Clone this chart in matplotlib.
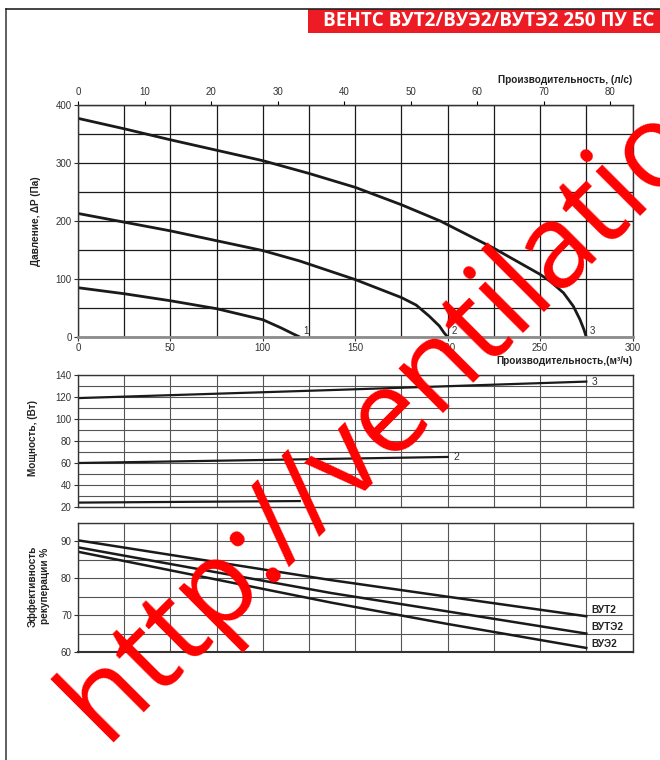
import matplotlib
matplotlib.use("Agg")
import matplotlib.pyplot as plt
import numpy as np

plt.rcParams['font.family'] = ['Liberation Sans', 'DejaVu Sans']

# ---------------- data ----------------
# Pressure curves (flow m3/h -> pressure Pa)
flow_1 = [0, 25, 50, 75, 100, 110, 116, 120]
pres_1 = [85, 74.6, 62.5, 48.8, 29.8, 15.5, 6, 0]
flow_2 = [0, 25, 50, 75, 100, 120, 150, 175, 183, 190, 195.5, 198, 200]
pres_2 = [213, 198, 183, 166, 149, 131, 99, 68, 55, 36, 19, 7.5, 0]
flow_3 = [0, 25, 50, 75, 100, 125, 150, 175, 196, 225, 250, 255.5, 262.7, 268, 271.6, 273.7, 275]
pres_3 = [377, 359, 340, 322, 304, 282, 258, 228, 200, 153, 108, 96, 76, 53, 30, 13, 0]
curve_labels = ["1", "2", "3"]

# Power (flow m3/h -> W)
pw_flow_1 = [0, 120]
pw_1 = [24, 25.4]
pw_flow_2 = [0, 200]
pw_2 = [60, 65.5]
pw_flow_3 = [0, 137, 275]
pw_3 = [119, 126.3, 134]

# Heat recovery efficiency (flow m3/h -> %)
eff_flow = [0, 137, 200, 275]
eff_vut2 = [90.3, 79.5, 75.0, 69.7]
eff_vute2 = [88.4, 76.0, 71.0, 65.0]
eff_vue2 = [87.2, 73.4, 67.6, 61.1]
eff_names = ["ВУТ2", "ВУТЭ2", "ВУЭ2"]

x_ticks_m3h = [0, 50, 100, 150, 200, 250, 300]
x_ticks_ls = [0, 10, 20, 30, 40, 50, 60, 70, 80]
p_ticks = [0, 100, 200, 300, 400]
pw_ticks = [20, 40, 60, 80, 100, 120, 140]
eff_ticks = [60, 70, 80, 90]

title = "ВЕНТС ВУТ2/ВУЭ2/ВУТЭ2 250 ПУ ЕС"

# ---------------- figure ----------------
W, H = 660, 760
fig = plt.figure(figsize=(W / 100, H / 100), dpi=100)


def px_axes(left, top, right, bottom):
    return fig.add_axes([left / W, 1 - bottom / H, (right - left) / W, (bottom - top) / H])


TICK_FS = 7
TICK_COLOR = '#333333'
LAB_FS = 7.2

# page frame
fig.add_artist(plt.Line2D([5.5 / W, 5.5 / W], [0, 1 - 9 / H], color='#444444', lw=1.2))
fig.add_artist(plt.Line2D([5.5 / W, 1], [1 - 9 / H, 1 - 9 / H], color='#222222', lw=1.2))
fig.add_artist(plt.Rectangle((308 / W, 1 - 33 / H), (W - 308) / W, 24 / H,
                             color='#ed1c24', lw=0))
fig.text(488.5 / W, 1 - 21.5 / H, title, color='white', fontsize=13.6, fontweight='bold',
         family=['Open Sans', 'DejaVu Sans'], ha='center', va='center')


def style_ax(ax, ymin, ymax, ystep_minor, yticks, grid_color, grid_lw):
    ax.set_xlim(0, 300)
    ax.set_ylim(ymin, ymax)
    ax.set_xticks(np.arange(0, 301, 25), minor=True)
    ax.set_yticks(np.arange(ymin, ymax + 0.01, ystep_minor), minor=True)
    ax.set_yticks(yticks)
    ax.grid(True, which='both', color=grid_color, lw=grid_lw)
    ax.set_axisbelow(True)
    ax.tick_params(which='minor', length=0)
    ax.tick_params(which='major', length=3, width=0.8, labelsize=TICK_FS,
                   labelcolor=TICK_COLOR, color='#333333', pad=1.5)
    for s in ax.spines.values():
        s.set_color('#333333')
        s.set_linewidth(1.0)


# ---- pressure chart ----
ax1 = px_axes(78, 105, 632.5, 337)
style_ax(ax1, 0, 400, 50, p_ticks, '#1a1a1a', 0.9)
ax1.set_xticks(x_ticks_m3h)
ax1.spines['bottom'].set_color('#8c8c8c')
ax1.spines['bottom'].set_linewidth(2.0)
for fx, py, lab in zip([flow_1, flow_2, flow_3], [pres_1, pres_2, pres_3], curve_labels):
    ax1.plot(fx, py, color='#1a1a1a', lw=2.0, solid_capstyle='butt')
    ax1.text(fx[-1] + 2, 2, lab, fontsize=TICK_FS, color=TICK_COLOR, ha='left', va='bottom')
sec = ax1.secondary_xaxis('top', functions=(lambda x: x / 3.6, lambda x: x * 3.6))
sec.set_xticks(x_ticks_ls)
sec.tick_params(length=3, width=0.8, labelsize=TICK_FS, labelcolor=TICK_COLOR, pad=2.5)
sec.spines['top'].set_color('#222222')
fig.text(632 / W, 1 - 80 / H, "Производительность, (л/с)", fontsize=LAB_FS,
         fontweight='bold', color='#222222', ha='right', va='center')
fig.text(633 / W, 1 - 361 / H, "Производительность,(м³/ч)", fontsize=LAB_FS,
         fontweight='bold', color='#222222', ha='right', va='center')
fig.text(36 / W, 1 - 221 / H, "Давление, ΔP (Па)", fontsize=LAB_FS, fontweight='bold',
         color='#222222', rotation=90, ha='center', va='center')

# ---- power chart ----
ax2 = px_axes(78, 375, 632.5, 507)
style_ax(ax2, 20, 140, 10, pw_ticks, '#555555', 0.8)
ax2.set_xticks([])
for fx, py, lab in zip([pw_flow_1, pw_flow_2, pw_flow_3], [pw_1, pw_2, pw_3], curve_labels):
    ax2.plot(fx, py, color='#1a1a1a', lw=1.6)
    ax2.text(fx[-1] + 3, py[-1], lab, fontsize=TICK_FS + 0.5, color=TICK_COLOR,
             ha='left', va='center')
fig.text(33 / W, 1 - 438 / H, "Мощность, (Вт)", fontsize=LAB_FS, fontweight='bold',
         color='#222222', rotation=90, ha='center', va='center')

# ---- efficiency chart ----
ax3 = px_axes(78, 523, 632.5, 652)
style_ax(ax3, 60, 95, 5, eff_ticks, '#555555', 0.8)
ax3.set_xticks([])
ax3.spines['bottom'].set_linewidth(1.5)
label_y = [71.4, 66.7, 62.1]
for ey, name, ly in zip([eff_vut2, eff_vute2, eff_vue2], eff_names, label_y):
    ax3.plot(eff_flow, ey, color='#1a1a1a', lw=1.8)
    ax3.text(278, ly, name, fontsize=LAB_FS, fontweight='bold', color='#222222',
             ha='left', va='center')
fig.text(38.5 / W, 1 - 586 / H, "Эффективность\nрекуперации %", fontsize=LAB_FS,
         fontweight='bold', color='#222222', rotation=90, ha='center', va='center',
         multialignment='center', linespacing=1.25)

# ---- watermark ----
fig.text(104 / W, 1 - 742 / H, "http://ventilatio", rotation=45,
         rotation_mode='anchor', ha='left', va='baseline', fontsize=84,
         color='#ff0000', family=['Open Sans', 'DejaVu Sans'], zorder=10)

fig.savefig("out.png", dpi=100)
